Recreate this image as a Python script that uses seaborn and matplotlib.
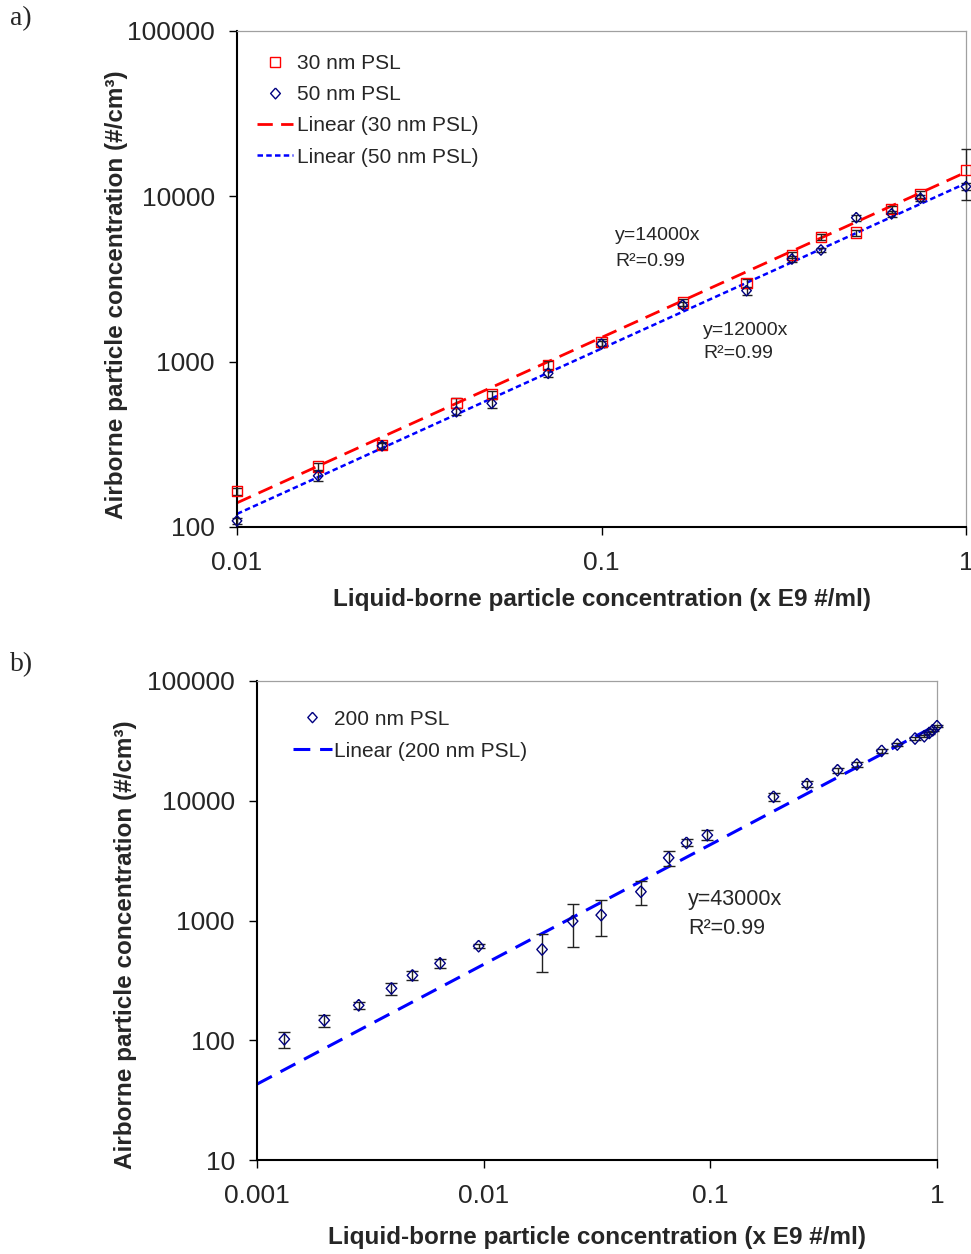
import matplotlib
matplotlib.use("Agg")
import matplotlib.pyplot as plt
from matplotlib.lines import Line2D
import numpy as np
import pandas as pd
import seaborn as sns

# ---- panel a: 30 nm and 50 nm PSL ----
conc_a = [0.01, 0.0167, 0.025, 0.04, 0.05, 0.0714, 0.1, 0.167, 0.25, 0.333,
          0.4, 0.5, 0.625, 0.75, 1.0]
air_30 = [165, 232, 313, 565, 635, 955, 1310, 2275, 2980, 4420,
          5700, 6040, 8360, 10330, 14450]
err_30 = [8, 12, 15, 40, 30, 50, 60, 110, 180, 200, 250, 250, 400, 500, 5000]
air_50 = [109, 204, 310, 498, 560, 851, 1280, 2200, 2690, 4180,
          4740, 7430, 7840, 9730, 11460]
err_50 = [5, 15, 12, 25, 35, 40, 55, 100, 150, 180, 150, 300, 300, 400, 500]
slope_30 = 14000
slope_50 = 12000

# ---- panel b: 200 nm PSL ----
conc_b = [0.00132, 0.00198, 0.00281, 0.00392, 0.00485, 0.00642, 0.0095,
          0.0181, 0.0247, 0.0330, 0.0494, 0.0655, 0.0785, 0.097, 0.190,
          0.267, 0.364, 0.443, 0.570, 0.668, 0.80, 0.879, 0.925, 0.957, 1.0]
air_200 = [102, 147, 196, 271, 348, 439, 611, 573, 988, 1110, 1740, 3340,
           4450, 5160, 10800, 13800, 18000, 20100, 26100, 29500, 33100,
           34600, 36900, 38800, 42000]
err_200 = [16, 17, 12, 30, 30, 40, 25, 200, 390, 370, 400, 480, 300, 500,
           800, 700, 900, 800, 1000, 1000, 800, 800, 800, 800, 800]
slope_200 = 43000

xlabel = "Liquid-borne particle concentration (x E9 #/ml)"
ylabel = "Airborne particle concentration (#/cm³)"

sns.set_theme(style="white")
plt.rcParams["font.family"] = ["Liberation Sans", "DejaVu Sans"]

W, H = 971, 1254
fig = plt.figure(figsize=(W / 100, H / 100), dpi=100)


def axes_px(left, right, top, bottom):
    return fig.add_axes([left / W, 1 - bottom / H, (right - left) / W, (bottom - top) / H])


def text_px(x, y, s, **kw):
    # place text using pixel positions measured from the top-left corner
    fig.text(x / W, 1 - y / H, s, **kw)


ax_a = axes_px(237, 966, 31, 527)
ax_b = axes_px(257, 937, 681, 1160)

# open diamond marker, slightly taller than wide
diamond = [(0, 1), (0.9, 0), (0, -1), (-0.9, 0), (0, 1)]
navy = "#000080"


def style_axes(ax, xlim, ylim, xticks, xlabels, yticks, ylabels):
    ax.set_xscale("log")
    ax.set_yscale("log")
    ax.set_xlim(*xlim)
    ax.set_ylim(*ylim)
    ax.set_xticks(xticks, xlabels)
    ax.set_yticks(yticks, ylabels)
    ax.minorticks_off()
    ax.tick_params(axis="both", which="major", direction="out", length=6,
                   width=1, color="black", labelsize=19, bottom=True, left=True)
    ax.tick_params(axis="x", pad=11)
    ax.tick_params(axis="y", pad=10)
    for side in ("left", "bottom"):
        ax.spines[side].set_color("black")
        ax.spines[side].set_linewidth(1.5)
    for side in ("top", "right"):
        ax.spines[side].set_color("#A0A0A0")
        ax.spines[side].set_linewidth(0.9)
    ax.grid(False)
    ax.set_facecolor("white")
    ax.set_xlabel(xlabel, fontsize=17.5, fontweight="bold")
    ax.set_ylabel(ylabel, fontsize=17.5, fontweight="bold")


# ---------------- panel a ----------------
df_a = pd.DataFrame({"conc": conc_a, "air30": air_30, "air50": air_50})
fit_x_a = np.array([conc_a[0], conc_a[-1]])
fit_a = pd.DataFrame({"conc": fit_x_a,
                      "fit30": slope_30 * fit_x_a,
                      "fit50": slope_50 * fit_x_a})

sns.lineplot(data=fit_a, x="conc", y="fit30", ax=ax_a, color="#FF0000",
             linewidth=2, linestyle=(0, (5.5, 3)), zorder=2)
sns.lineplot(data=fit_a, x="conc", y="fit50", ax=ax_a, color="#0000FF",
             linewidth=1.8, linestyle=(0, (2.2, 1.3)), zorder=2)

ax_a.errorbar(conc_a, air_30, yerr=err_30, fmt="none", ecolor="#222222",
              elinewidth=1, capsize=3.5, capthick=1, zorder=3, clip_on=False)
ax_a.errorbar(conc_a, air_50, yerr=err_50, fmt="none", ecolor="#222222",
              elinewidth=1, capsize=3.5, capthick=1, zorder=3, clip_on=False)

sns.scatterplot(data=df_a, x="conc", y="air30", ax=ax_a, marker="s", s=55,
                facecolor="none", edgecolor="#FF0000", linewidth=1,
                zorder=4, clip_on=False)
sns.scatterplot(data=df_a, x="conc", y="air50", ax=ax_a, marker=diamond, s=58,
                facecolor="none", edgecolor=navy, linewidth=1,
                zorder=4, clip_on=False)

style_axes(ax_a, (0.01, 1), (100, 100000), [0.01, 0.1, 1], ["0.01", "0.1", "1"],
           [100, 1000, 10000, 100000], ["100", "1000", "10000", "100000"])
ax_a.yaxis.set_label_coords(-0.150, 0.468)
ax_a.xaxis.set_label_coords(0.5, -0.123)

text_px(615, 235, f"y={slope_30}x", fontsize=14, va="center")
text_px(615, 261, "R²=0.99", fontsize=14, va="center")
text_px(703, 331, f"y={slope_50}x", fontsize=14, va="center")
text_px(703, 354, "R²=0.99", fontsize=14, va="center")

handles_a = [
    Line2D([], [], linestyle="none", marker="s", markersize=7.2,
           markerfacecolor="none", markeredgecolor="#FF0000", markeredgewidth=1),
    Line2D([], [], linestyle="none", marker=diamond, markersize=7.8,
           markerfacecolor="none", markeredgecolor=navy, markeredgewidth=1),
    Line2D([], [], color="#FF0000", linewidth=2, linestyle=(0, (5.5, 3))),
    Line2D([], [], color="#0000FF", linewidth=1.8, linestyle=(0, (2.2, 1.3))),
]
labels_a = ["30 nm PSL", "50 nm PSL", "Linear (30 nm PSL)", "Linear (50 nm PSL)"]
ax_a.legend(handles_a, labels_a, loc="upper left", frameon=False, fontsize=15,
            bbox_to_anchor=(0.027, 0.953), borderaxespad=0, borderpad=0,
            handlelength=1.75, handletextpad=0.2, labelspacing=0.58)

# ---------------- panel b ----------------
df_b = pd.DataFrame({"conc": conc_b, "air200": air_200})
fit_x_b = np.array([0.001, 1.0])
fit_b = pd.DataFrame({"conc": fit_x_b, "fit200": slope_200 * fit_x_b})

sns.lineplot(data=fit_b, x="conc", y="fit200", ax=ax_b, color="#0000FF",
             linewidth=2.2, linestyle=(0, (5.5, 3.2)), zorder=2)
ax_b.errorbar(conc_b, air_200, yerr=err_200, fmt="none", ecolor="#222222",
              elinewidth=1, capsize=4, capthick=1, zorder=3, clip_on=False)
sns.scatterplot(data=df_b, x="conc", y="air200", ax=ax_b, marker=diamond, s=70,
                facecolor="none", edgecolor=navy, linewidth=1,
                zorder=4, clip_on=False)

style_axes(ax_b, (0.001, 1), (10, 100000), [0.001, 0.01, 0.1, 1],
           ["0.001", "0.01", "0.1", "1"],
           [10, 100, 1000, 10000, 100000],
           ["10", "100", "1000", "10000", "100000"])
ax_b.yaxis.set_label_coords(-0.176, 0.449)
ax_b.xaxis.set_label_coords(0.5, -0.138)

text_px(688, 899, f"y={slope_200}x", fontsize=15.5, va="center")
text_px(688, 929, "R²=0.99", fontsize=15.5, va="center")

handles_b = [
    Line2D([], [], linestyle="none", marker=diamond, markersize=7.5,
           markerfacecolor="none", markeredgecolor=navy, markeredgewidth=1),
    Line2D([], [], color="#0000FF", linewidth=2.2, linestyle=(0, (5.5, 3.2))),
]
ax_b.legend(handles_b, ["200 nm PSL", "Linear (200 nm PSL)"], loc="upper left",
            frameon=False, fontsize=15, bbox_to_anchor=(0.053, 0.94),
            borderaxespad=0, borderpad=0, handlelength=1.85,
            handletextpad=0.12, labelspacing=0.62)

# panel tags
text_px(10, 6, "a)", fontsize=20, va="top", ha="left",
        family=["Liberation Serif", "DejaVu Serif"])
text_px(10, 652, "b)", fontsize=20, va="top", ha="left",
        family=["Liberation Serif", "DejaVu Serif"])

fig.savefig("out.png", dpi=100, facecolor="white")
